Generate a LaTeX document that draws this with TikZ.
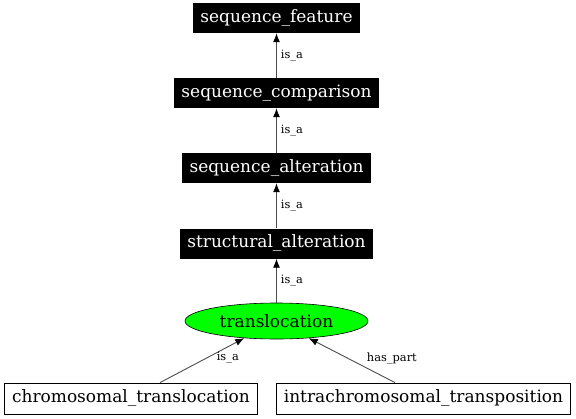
\documentclass[tikz,border=0pt]{standalone}
\usepackage{fontspec}
\setmainfont{DejaVu Serif}
\usetikzlibrary{arrows.meta}
\usetikzlibrary{positioning}
\usetikzlibrary{shapes.geometric}
\definecolor{termgreen}{RGB}{0,255,0}

\begin{document}
\begin{tikzpicture}[
	x=1pt, y=-1pt,
  > = {Latex[length=9pt,width=7pt,color=black]},
  term/.style = {fill=black,text=white,inner xsep=7.5pt,inner ysep=0pt,minimum height=30pt,font=\fontsize{17}{20}\selectfont},
  leaf/.style = {draw=black,fill=white,inner xsep=7.5pt,inner ysep=0pt,minimum height=31pt,line width=0.8pt,font=\fontsize{17}{20}\selectfont},
  focus/.style = {ellipse,draw=black,fill=termgreen,minimum width=183pt,minimum height=36pt,inner sep=0pt,line width=0.6pt,font=\fontsize{17}{20}\selectfont},
  rel/.style = {font=\fontsize{11.4}{13}\selectfont,inner sep=1pt},
  edge/.style = {->,line width=0.9pt,draw=black!70}
  ]
	\useasboundingbox (0,0) rectangle (576,418);

	\node[term] (sequence_feature) at (276.5,18) {sequence\_feature};
	\node[term] (sequence_comparison) at (276.5,93) {sequence\_comparison};
	\node[term] (sequence_alteration) at (276.5,168) {sequence\_alteration};
	\node[term] (structural_alteration) at (276.5,243.5) {structural\_alteration};
	\node[focus] (translocation) at (276.5,321) {translocation};
	\node[leaf] (chromosomal_translocation) at (131,398.5) {chromosomal\_translocation};
	\node[leaf] (intrachromosomal_transposition) at (423.5,398.5) {intrachromosomal\_transposition};

	\draw[edge] (sequence_comparison) -- node[rel,right=3pt] {is\_a} (sequence_feature);
	\draw[edge] (sequence_alteration) -- node[rel,right=3pt] {is\_a} (sequence_comparison);
	\draw[edge] (structural_alteration) -- node[rel,right=3pt] {is\_a} (sequence_alteration);
	\draw[edge] (translocation) -- node[rel,right=3pt] {is\_a} (structural_alteration);
	\draw[edge] ([xshift=29pt]chromosomal_translocation.north) -- node[rel,pos=0.55,right=9pt] {is\_a} (translocation.208);
	\draw[edge] ([xshift=-28.5pt]intrachromosomal_transposition.north) -- node[rel,pos=0.55,right=18pt] {has\_part} (translocation.332);

\end{tikzpicture}
\end{document}
